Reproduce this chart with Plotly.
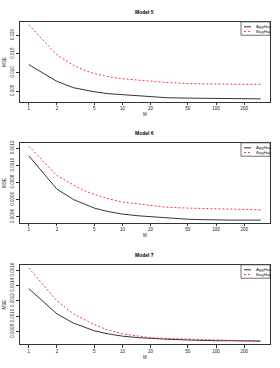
import plotly.graph_objects as go

M = [1, 2, 3, 4, 5, 7, 10, 15, 20, 30, 50, 75, 100, 150, 200, 300]

agg5 = [0.0121, 0.0076, 0.0059, 0.0052, 0.0048, 0.0043, 0.0040, 0.0036, 0.0034, 0.0032,
        0.0031, 0.00305, 0.0030, 0.0030, 0.0029, 0.0029]
bag5 = [0.0228, 0.0147, 0.0119, 0.0105, 0.0097, 0.0089, 0.0083, 0.0079, 0.0076, 0.0073,
        0.0070, 0.0069, 0.0069, 0.0068, 0.0068, 0.0068]

agg6 = [0.00111, 0.00072, 0.00060, 0.00054, 0.00050, 0.00046, 0.00043, 0.00041, 0.00040,
        0.00038, 0.00037, 0.000365, 0.00036, 0.00036, 0.00036, 0.00036]
bag6 = [0.00122, 0.00088, 0.00077, 0.00070, 0.00066, 0.00061, 0.00057, 0.00055, 0.00053,
        0.00051, 0.00050, 0.000495, 0.00049, 0.00048, 0.00048, 0.00048]

agg7 = [0.00136, 0.00103, 0.00091, 0.00085, 0.00081, 0.00077, 0.00074, 0.00072, 0.00071,
        0.00070, 0.00069, 0.00068, 0.00068, 0.00068, 0.000675, 0.000675]
bag7 = [0.00163, 0.00120, 0.00103, 0.00095, 0.00089, 0.00082, 0.00077, 0.00074, 0.00072,
        0.00071, 0.00070, 0.00069, 0.00069, 0.00068, 0.00068, 0.00068]

titles = ["Model 5", "Model 6", "Model 7"]
series_names = ["AggHac", "BagHac"]
series = [(agg5, bag5), (agg6, bag6), (agg7, bag7)]
x_ticks = [1, 2, 5, 10, 20, 50, 100, 200]
y_ticks = [
    [0.005, 0.010, 0.015, 0.020],
    [0.0004, 0.0006, 0.0008, 0.0010, 0.0012],
    [0.0008, 0.0010, 0.0012, 0.0014, 0.0016],
]
y_tick_text = [
    ["0.005", "0.010", "0.015", "0.020"],
    ["0.0004", "0.0006", "0.0008", "0.0010", "0.0012"],
    ["0.0008", "0.0010", "0.0012", "0.0014", "0.0016"],
]
y_ranges = [[0.00214, 0.0236], [0.00033, 0.00126], [0.000635, 0.00167]]

W, H = 280, 368
box_px = [(19, 99.5), (141, 221.5), (264, 344)]
xl, xr = 19.5, 270
x_dom = [xl / W, xr / W]

FONT = "Liberation Sans, Arial, sans-serif"
TXT = "#222"
colors = ["black", "red"]
dashes = ["solid", "2px,2px"]

fig = go.Figure()
annotations = []
shapes = []
for i in range(3):
    sfx = "" if i == 0 else str(i + 1)
    agg, bag = series[i]
    for k, vals in enumerate((agg, bag)):
        fig.add_trace(go.Scatter(x=M, y=vals, mode="lines", name=series_names[k],
                                 line=dict(color=colors[k], width=0.8, dash=dashes[k]),
                                 xaxis="x" + sfx, yaxis="y" + sfx, showlegend=False))
    top, bot = box_px[i]
    ydom = [1 - bot / H, 1 - top / H]
    fig.layout["xaxis" + sfx] = dict(
        type="log", range=[-0.099, 2.576], domain=x_dom, anchor="y" + sfx,
        tickvals=x_ticks, ticktext=[str(v) for v in x_ticks],
        ticks="outside", ticklen=2.5, tickwidth=0.6, tickcolor="#333",
        showline=True, linecolor="#333", linewidth=0.8, mirror=True,
        showgrid=False, zeroline=False,
        tickfont=dict(size=4.5, family=FONT, color=TXT),
        title=dict(text="M", font=dict(size=4.5, family=FONT, color=TXT), standoff=2),
    )
    fig.layout["yaxis" + sfx] = dict(
        range=y_ranges[i], domain=ydom, anchor="x" + sfx,
        tickvals=y_ticks[i], ticktext=y_tick_text[i], tickangle=-90,
        ticks="outside", ticklen=2.5, tickwidth=0.6, tickcolor="#333",
        showline=True, linecolor="#333", linewidth=0.8, mirror=True,
        showgrid=False, zeroline=False,
        tickfont=dict(size=4.5, family=FONT, color=TXT),
        title=dict(text="MSE", font=dict(size=4.5, family=FONT, color=TXT), standoff=3),
    )
    # legend box (drawn manually so it can be as small as the reference)
    lx0, lx1 = 241, xr
    ly0, ly1 = top, top + 13.5
    shapes.append(dict(type="rect", xref="paper", yref="paper",
                       x0=lx0 / W, x1=lx1 / W, y0=1 - ly1 / H, y1=1 - ly0 / H,
                       line=dict(color="#333", width=0.7), fillcolor="white", layer="above"))
    for k in range(2):
        yy = top + 5 + k * 4.8
        shapes.append(dict(type="line", xref="paper", yref="paper",
                           x0=244 / W, x1=251 / W, y0=1 - yy / H, y1=1 - yy / H,
                           line=dict(color=colors[k], width=0.8, dash=dashes[k]),
                           layer="above"))
        annotations.append(dict(text=series_names[k], x=253.5 / W, y=1 - yy / H,
                                xref="paper", yref="paper", showarrow=False,
                                xanchor="left", yanchor="middle",
                                font=dict(size=4.3, family=FONT, color=TXT)))
    annotations.append(dict(
        text="<b>" + titles[i] + "</b>", x=0.5 * (x_dom[0] + x_dom[1]), y=1 - (top - 10) / H,
        xref="paper", yref="paper", showarrow=False, xanchor="center", yanchor="middle",
        font=dict(size=5, family=FONT, color="black"),
    ))

fig.update_layout(
    width=W, height=H, margin=dict(l=0, r=0, t=0, b=0),
    paper_bgcolor="white", plot_bgcolor="white",
    annotations=annotations, shapes=shapes, showlegend=False,
)
fig.write_html("out.html", config={"displayModeBar": False},
               post_script="document.body.style.margin='0';document.body.style.overflow='hidden';")
